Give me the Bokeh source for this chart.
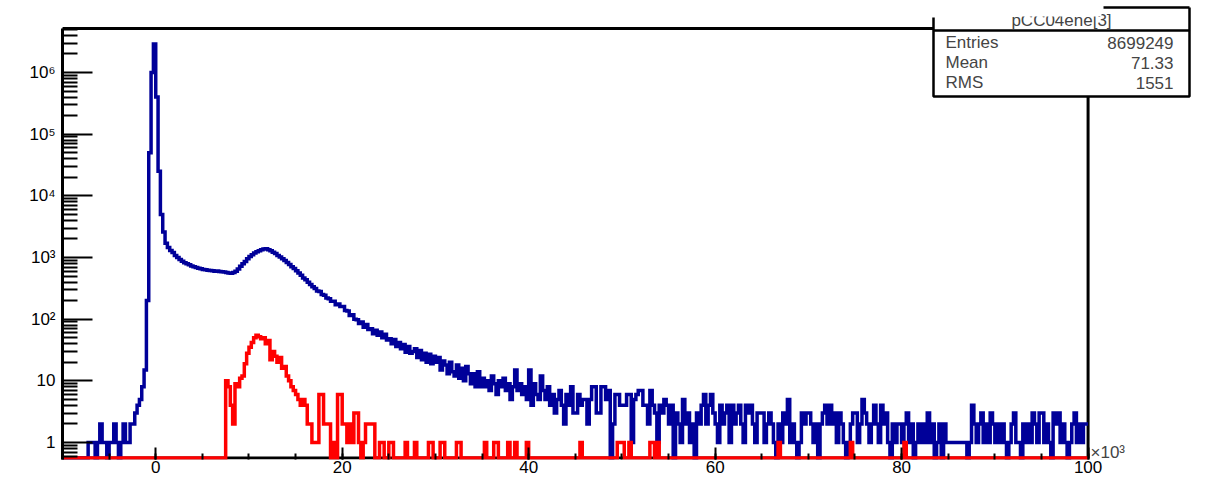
import numpy as np
from bokeh.plotting import figure
from bokeh.models import (FixedTicker, SingleIntervalTicker, CustomJSTickFormatter,
                          BoxAnnotation, Label, Range1d)
from bokeh.embed import file_html
from bokeh.resources import INLINE

# ---------------- data ----------------
X_MIN, X_MAX, BIN_W = -10.0, 100.0, 0.25      # x axis in units of 10^3
Y_MIN, Y_MAX = 0.53, 5.17e6                    # ROOT frame limits
X_CANVAS_RIGHT = 111.2                         # extra room on the right for the stats box
Y_CANVAS_TOP = 1.22e7                          # extra room above for the stats box

# blue histogram, bins of 0.25 from -10 to 100 (20 bins per line = 5 units)
blue_counts = [
    0, 0, 0, 0, 0, 0, 0, 0, 0, 0, 0, 1, 1, 1, 0, 1, 2, 1, 1, 0,
    1, 1, 2, 1, 0, 1, 2, 1, 1, 2, 2, 3, 4, 5, 8, 15, 200, 50000, 1000000, 2900000,
    400000, 25000, 5000, 2600, 1700, 1450, 1300, 1200, 1080, 1000, 930, 870, 820, 790, 760, 730, 710, 690, 670, 655,
    640, 630, 620, 615, 610, 600, 605, 595, 585, 580, 570, 560, 555, 570, 600, 650, 720, 790, 860, 950,
    1040, 1110, 1180, 1240, 1290, 1330, 1370, 1380, 1340, 1290, 1220, 1160, 1080, 1020, 950, 890, 830, 770, 710, 660,
    610, 560, 515, 465, 435, 395, 365, 335, 315, 285, 280, 250, 245, 220, 215, 195, 195, 172, 176, 160,
    160, 138, 135, 115, 118, 100, 98, 85, 90, 74, 82, 68, 70, 58, 66, 55, 62, 50, 57, 46,
    48, 40, 47, 36, 42, 33, 39, 29, 36, 28, 30, 33, 24, 31, 22, 28, 20, 27, 19, 25,
    20, 24, 15, 21, 18, 13, 20, 14, 12, 18, 11, 16, 10, 17, 13, 9, 13, 8, 14, 8,
    11, 8, 10, 7, 12, 9, 6, 10, 8, 11, 7, 9, 5, 8, 15, 7, 9, 6, 8, 5,
    15, 4, 9, 6, 5, 12, 7, 5, 8, 4, 6, 3, 5, 7, 4, 2, 6, 4, 8, 3,
    3, 6, 4, 5, 5, 2, 5, 8, 8, 3, 3, 8, 8, 5, 7, 0, 2, 6, 6, 4,
    4, 4, 6, 6, 1, 5, 6, 7, 7, 4, 4, 2, 7, 4, 3, 1, 4, 3, 5, 4,
    2, 4, 0, 3, 2, 1, 5, 2, 3, 1, 2, 0, 3, 2, 4, 6, 2, 4, 6, 3,
    2, 1, 4, 2, 3, 4, 1, 4, 2, 3, 4, 2, 1, 4, 3, 4, 2, 1, 3, 3,
    3, 1, 2, 3, 2, 1, 0, 2, 1, 3, 2, 5, 1, 2, 1, 0, 1, 3, 2, 3,
    3, 2, 1, 2, 0, 2, 3, 4, 2, 4, 2, 3, 1, 3, 2, 1, 0, 1, 2, 3,
    3, 1, 2, 5, 3, 2, 1, 2, 4, 2, 1, 4, 2, 3, 1, 0, 2, 1, 2, 2,
    1, 2, 3, 1, 2, 0, 1, 2, 1, 2, 1, 3, 1, 2, 0, 1, 2, 0, 2, 1,
    1, 1, 1, 1, 1, 1, 1, 1, 0, 1, 4, 2, 1, 2, 3, 1, 2, 1, 3, 2,
    1, 2, 1, 2, 1, 0, 1, 2, 3, 1, 1, 0, 2, 1, 2, 1, 3, 2, 1, 3,
    3, 1, 2, 1, 0, 3, 2, 3, 1, 2, 1, 0, 1, 2, 3, 1, 2, 1, 2, 2,
]

# red histogram, same binning
red_counts = [
    0, 0, 0, 0, 0, 0, 0, 0, 0, 0, 0, 0, 0, 0, 0, 0, 0, 0, 0, 0,
    0, 0, 0, 0, 0, 0, 0, 0, 0, 0, 0, 0, 0, 0, 0, 0, 0, 0, 0, 0,
    0, 0, 0, 0, 0, 0, 0, 0, 0, 0, 0, 0, 0, 0, 0, 0, 0, 0, 0, 0,
    0, 0, 0, 0, 0, 0, 0, 0, 0, 0, 10, 8, 4, 2, 9, 8, 11, 12, 19, 28,
    35, 42, 50, 55, 52, 48, 50, 40, 45, 22, 30, 25, 20, 24, 16, 17, 12, 10, 8, 7,
    6, 5, 4, 5, 4, 2, 2, 1, 1, 1, 6, 6, 2, 2, 2, 0, 1, 0, 6, 6,
    2, 2, 1, 2, 1, 3, 3, 1, 0, 1, 2, 2, 2, 2, 0, 0, 1, 1, 0, 0,
    1, 1, 0, 0, 0, 0, 0, 1, 0, 0, 0, 1, 0, 0, 0, 0, 0, 1, 1, 0,
    0, 0, 1, 1, 0, 0, 0, 0, 0, 1, 1, 0, 0, 0, 0, 0, 0, 0, 0, 0,
    0, 1, 0, 0, 0, 1, 1, 0, 0, 0, 0, 1, 0, 0, 1, 0, 0, 0, 0, 1,
    0, 0, 0, 0, 0, 0, 0, 0, 0, 0, 0, 0, 0, 0, 0, 0, 0, 0, 0, 0,
    0, 0, 1, 0, 0, 0, 0, 0, 0, 0, 0, 0, 0, 0, 0, 0, 0, 0, 1, 1,
    1, 0, 0, 1, 0, 0, 0, 0, 0, 0, 0, 0, 1, 1, 0, 1, 0, 0, 0, 0,
    0, 0, 0, 0, 0, 0, 0, 0, 0, 0, 0, 0, 0, 0, 0, 0, 0, 0, 0, 0,
    0, 0, 0, 0, 0, 0, 0, 0, 0, 0, 0, 0, 0, 0, 0, 0, 0, 0, 0, 0,
    0, 0, 0, 0, 0, 0, 0, 1, 0, 0, 0, 0, 0, 0, 0, 0, 0, 0, 0, 0,
    0, 0, 0, 0, 0, 0, 0, 0, 0, 0, 0, 0, 0, 0, 0, 0, 0, 0, 1, 0,
    0, 0, 0, 0, 0, 0, 0, 0, 0, 0, 0, 0, 0, 0, 0, 0, 0, 0, 0, 0,
    0, 1, 0, 0, 0, 0, 0, 0, 0, 0, 0, 0, 0, 0, 0, 0, 0, 0, 0, 0,
    0, 0, 0, 0, 0, 0, 0, 0, 0, 0, 0, 0, 0, 0, 0, 0, 0, 0, 0, 0,
    0, 0, 0, 0, 0, 0, 0, 0, 0, 0, 0, 0, 0, 0, 0, 0, 0, 0, 0, 0,
    0, 0, 0, 0, 0, 0, 0, 0, 0, 0, 0, 0, 0, 0, 0, 0, 0, 0, 0, 0,
]

y_decades = [1, 10, 100, 1e3, 1e4, 1e5, 1e6]
x_tick_step = 20

stats_name = "pCC04ene[3]"
stats_keys = ["Entries", "Mean", "RMS"]
stats_vals = ["8699249", "71.33", "1551"]
x_multiplier = "\u00d710\u00b3"

BLUE = "#000099"
RED = "#ff0000"
FONT = "Liberation Sans"

# ---------------- helpers ----------------
edges = X_MIN + BIN_W * np.arange(len(blue_counts) + 1)
PX_PER_DECADE = 61.67
ZERO_LEVEL = Y_MIN * 10 ** (1.5 / PX_PER_DECADE)   # empty bins sit on the frame bottom


def step_xy(counts):
    c = np.asarray(counts, dtype=float)
    y = np.where(c > 0, c, ZERO_LEVEL)
    xs = np.column_stack([edges[:-1], edges[1:]]).ravel()
    ys = np.repeat(y, 2)
    return xs, ys


def screen_box(left, right, top, bottom, **kw):
    return BoxAnnotation(left=left, right=right, top=top, bottom=bottom,
                         left_units="screen", right_units="screen",
                         top_units="screen", bottom_units="screen", **kw)


def white_box(left, right, top, bottom):
    return screen_box(left, right, top, bottom, fill_color="white", fill_alpha=1,
                      line_color="white", line_alpha=0, line_width=0,
                      level="overlay")


def screen_line(left, right, top, bottom, width=2.5):
    return screen_box(left, right, top, bottom, fill_alpha=0, line_color="black",
                      line_alpha=1, line_width=width, level="overlay")


# ---------------- figure ----------------
FRAME_W, FRAME_H = 1130, 454
p = figure(frame_width=FRAME_W, frame_height=FRAME_H,
           min_border_left=62, min_border_right=4,
           min_border_top=5, min_border_bottom=5,
           x_range=Range1d(X_MIN, X_CANVAS_RIGHT), y_range=Range1d(Y_MIN, Y_CANVAS_TOP),
           y_axis_type="log", output_backend="svg", toolbar_location=None)
p.outline_line_color = None
p.background_fill_color = "white"
p.border_fill_color = "white"
p.xgrid.visible = False
p.ygrid.visible = False

# ROOT frame drawn beneath the histograms
p.add_layout(BoxAnnotation(left=X_MIN, right=X_MAX, bottom=ZERO_LEVEL, top=Y_MAX,
                           fill_alpha=0, line_color="black", line_alpha=1,
                           line_width=3, level="underlay"))

xs, ys = step_xy(blue_counts)
p.line(xs, ys, line_color=BLUE, line_width=3.5, line_join="miter")
xs, ys = step_xy(red_counts)
p.line(xs, ys, line_color=RED, line_width=3.5, line_join="miter")

# x axis
xa = p.xaxis[0]
xa.bounds = (X_MIN, X_MAX)
xa.ticker = SingleIntervalTicker(interval=x_tick_step, num_minor_ticks=4)
xa.axis_line_color = None
xa.major_tick_in, xa.major_tick_out = 12, 0
xa.minor_tick_in, xa.minor_tick_out = 6, 0
xa.major_tick_line_width = 2
xa.minor_tick_line_width = 2
xa.major_tick_line_color = "black"
xa.minor_tick_line_color = "black"
xa.major_label_text_font = FONT
xa.major_label_text_font_size = "17px"
xa.major_label_text_color = "black"
xa.major_label_standoff = 1

# y axis
minor_y = [m * d for d in [0.1] + y_decades for m in range(2, 10)
           if Y_MIN <= m * d <= Y_MAX]
ya = p.yaxis[0]
ya.bounds = (Y_MIN, Y_MAX)
ya.ticker = FixedTicker(ticks=y_decades, minor_ticks=minor_y)
ya.formatter = CustomJSTickFormatter(code="""
const sup = {"0":"\u2070","1":"\u00b9","2":"\u00b2","3":"\u00b3","4":"\u2074",
             "5":"\u2075","6":"\u2076","7":"\u2077","8":"\u2078","9":"\u2079"};
const e = Math.round(Math.log10(tick));
if (e == 0) return "1";
if (e == 1) return "10";
return "10" + String(e).split("").map(c => sup[c]).join("");
""")
ya.axis_line_color = "black"
ya.axis_line_width = 3
ya.major_tick_in, ya.major_tick_out = 30, 0
ya.minor_tick_in, ya.minor_tick_out = 15, 0
ya.major_tick_line_width = 2
ya.minor_tick_line_width = 2
ya.major_tick_line_color = "black"
ya.minor_tick_line_color = "black"
ya.major_label_text_font = FONT
ya.major_label_text_font_size = "17px"
ya.major_label_text_color = "black"
ya.major_label_standoff = 7

# x10^3 multiplier
p.add_layout(Label(x=1028, y=7, x_units="screen", y_units="screen",
                   text=x_multiplier, text_font=FONT, text_font_size="17px",
                   text_baseline="middle", text_align="left", level="overlay"))

# statistics box (screen units relative to the frame, y up from the frame bottom)
BOX_L, BOX_R = 871, 1127
p.add_layout(white_box(BOX_L, BOX_R, 452, 429))               # header background
p.add_layout(screen_box(BOX_L, BOX_R, 429, 363, fill_color="white", fill_alpha=1,
                        line_color="black", line_alpha=1, line_width=2.5,
                        level="overlay"))                      # body
p.add_layout(Label(x=999, y=439, x_units="screen", y_units="screen",
                   text=stats_name, text_font=FONT, text_font_size="17px",
                   text_align="center", text_baseline="alphabetic", level="overlay"))
for i, (k, v) in enumerate(zip(stats_keys, stats_vals)):
    yy = 417 - 20 * i
    p.add_layout(Label(x=883, y=yy, x_units="screen", y_units="screen",
                       text=k, text_font=FONT, text_font_size="17px",
                       text_align="left", text_baseline="middle", level="overlay"))
    p.add_layout(Label(x=1111, y=yy, x_units="screen", y_units="screen",
                       text=v, text_font=FONT, text_font_size="17px",
                       text_align="right", text_baseline="middle", level="overlay"))
# white patch that hides the top of the header text (as in the original)
p.add_layout(white_box(BOX_L + 2, 1039, 453, 443))
# header outline pieces
p.add_layout(screen_line(BOX_L, BOX_L, 442, 429))      # left edge of header
p.add_layout(screen_line(BOX_R, BOX_R, 452, 429))      # right edge of header
p.add_layout(screen_line(1041, BOX_R, 452, 452))       # short top edge

open("out.html", "w").write(file_html(p, INLINE))
